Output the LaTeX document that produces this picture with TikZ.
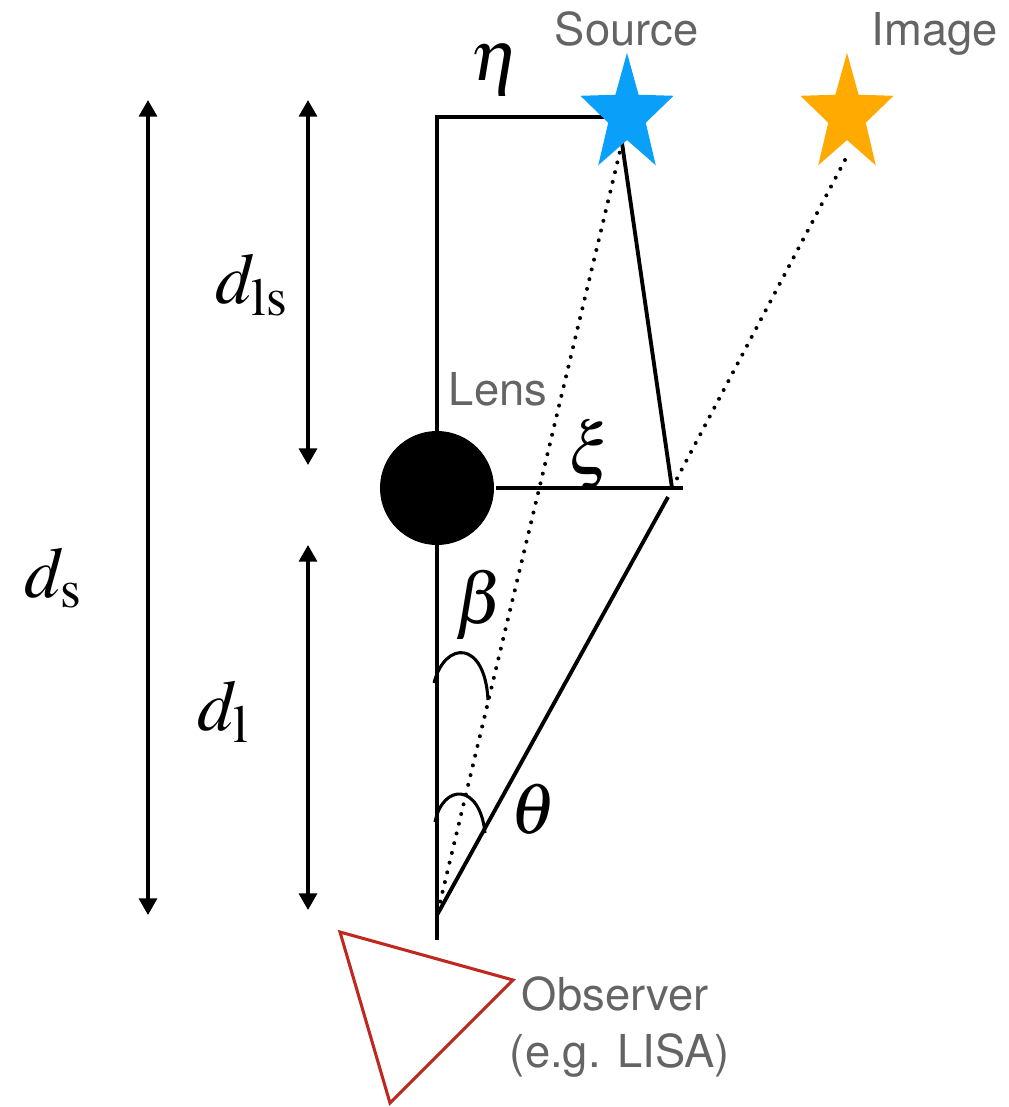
\documentclass[tikz,border=0pt]{standalone}
\usepackage{mathptmx}
\usepackage{fontspec}
\setsansfont{TeX Gyre Heros}
\usetikzlibrary{arrows.meta, shapes.geometric}

\definecolor{srcblue}{RGB}{10,160,250}
\definecolor{imgorange}{RGB}{255,170,0}
\definecolor{obsred}{RGB}{190,40,30}
\definecolor{lblgray}{RGB}{100,100,100}

\begin{document}
\begin{tikzpicture}[x=0.75pt, y=-0.75pt,
      line width=2.9pt,
      lbl/.style ={font=\sffamily\fontsize{34}{40}\selectfont, text=lblgray, inner sep=0pt},
      sym/.style ={font=\normalsize, scale=5.4, transform shape, inner sep=0pt},
      dist/.style={<->, line width=2.5pt},
      ray/.style ={line cap=round, dash pattern=on 0pt off 7.5pt, line width=3pt},
      hump/.style={line width=2.3pt},
      starshape/.style={star, star points=5, star point ratio=2.48,
        minimum size=73.4pt, inner sep=0pt, draw=none},
      >={Triangle[length=12.5pt, width=13.5pt]}
    ]
    \useasboundingbox (0,0) rectangle (1008,1107);

    % Points on the geometry
    \coordinate (top)     at (437,117);
    \coordinate (bot)     at (437,940);
    \coordinate (eye)     at (437,915);
    \coordinate (etaend)  at (615,117);
    \coordinate (srcfoot) at (622,143);
    \coordinate (imgfoot) at (845,160);
    \coordinate (kink)    at (672,488);
    \coordinate (kinklow) at (668,497);
    \coordinate (xiend)   at (683,488);

    % Rays, dotted and solid
    \draw[ray] (srcfoot) -- (eye);
    \draw[ray] (imgfoot) -- (kink);
    \draw (bot) -- (top) -- (etaend);
    \draw (srcfoot) -- (kink);
    \draw (kinklow) -- (eye);

    % Lens
    \node[circle, fill=black, minimum size=85.5pt, inner sep=0pt] (lens) at (437,488) {};
    \draw (lens.east) -- (xiend);

    % Angle marks
    \draw[hump] (434,683) .. controls (445,640) and (485,640) .. (488,700);
    \draw[hump] (435,822) .. controls (443,783) and (480,783) .. (485,833);

    % Source and image
    \begin{scope}[shift={(627,115)}, yscale=1.27]
      \node[starshape, fill=srcblue, transform shape] (src) at (0,0) {};
    \end{scope}
    \begin{scope}[shift={(847,115)}, yscale=1.27]
      \node[starshape, fill=imgorange, transform shape] (img) at (0,0) {};
    \end{scope}

    % Observer
    \coordinate (o1) at (340,932);
    \coordinate (o2) at (513,980);
    \coordinate (o3) at (390,1103);
    \draw[obsred, line width=2.3pt] (o1) -- (o2) -- (o3) -- cycle;

    % Text labels
    \node[lbl, anchor=base west] (srclbl)  at (553,45)   {Source};
    \node[lbl, anchor=base west] (imglbl)  at (870,45)   {Image};
    \node[lbl, anchor=base west] (lenslbl) at (447,405)  {Lens};
    \node[lbl, anchor=base west] (obslbl)  at (520,1010) {Observer};
    \node[lbl, anchor=base west] (obsnote) at (508,1067) {(e.g. LISA)};

    \node[sym] (eta)   at (495,70)  {$\eta$};
    \node[sym] (xi)    at (591,455) {$\xi$};
    \node[sym] (beta)  at (480,605) {$\beta$};
    \node[sym] (theta) at (533,809) {$\theta$};

    % Distances
    \coordinate (dsT)  at (148,100);
    \coordinate (dsB)  at (148,915);
    \coordinate (dlsT) at (308,100);
    \coordinate (dlsB) at (308,465);
    \coordinate (dlT)  at (308,545);
    \coordinate (dlB)  at (308,910);
    \draw[dist] (dsT) -- (dsB);
    \draw[dist] (dlsT) -- (dlsB);
    \draw[dist] (dlT) -- (dlB);

    \node[sym] (dslbl)  at (55,578)  {$d_{\mathrm{s}}$};
    \node[sym] (dlslbl) at (253,285) {$d_{\mathrm{ls}}$};
    \node[sym] (dllbl)  at (225,712) {$d_{\mathrm{l}}$};
  \end{tikzpicture}
\end{document}
